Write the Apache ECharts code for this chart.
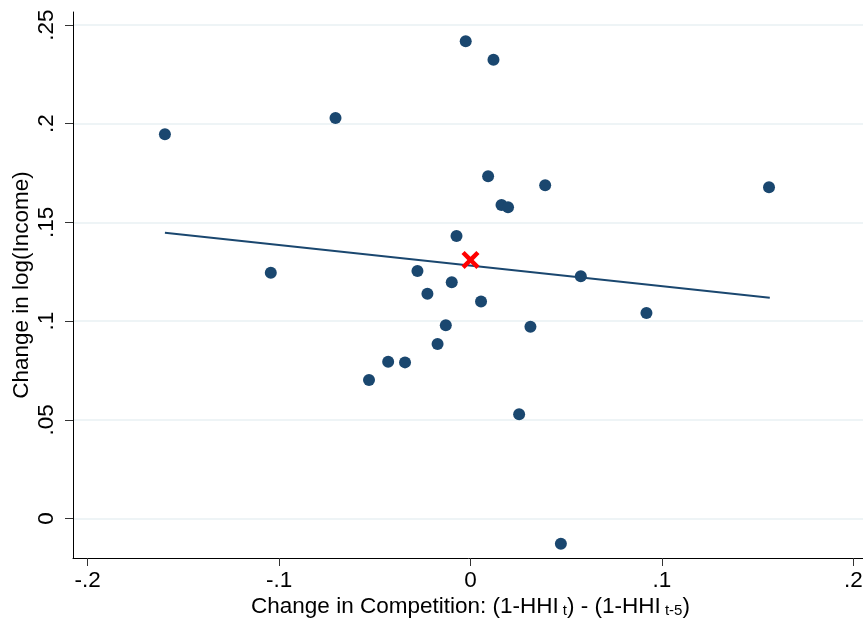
<!DOCTYPE html>
<html>
<head>
<meta charset="utf-8">
<script src="https://cdn.jsdelivr.net/npm/echarts@6/dist/echarts.min.js"></script>
<style>
  html, body { margin: 0; padding: 0; background: #ffffff; }
  #chart { width: 863px; height: 623px; }
</style>
</head>
<body>
<div id="chart"></div>
<script>
// Scatter points: change in competition (x) vs change in log(Income) (y)
const pointsX = [-0.1596, -0.0705, -0.0025, 0.0120, 0.0092, 0.0390, 0.0162, 0.0196,
                 0.1559, 0.0576, 0.0919, -0.1043, -0.0277, -0.0098, -0.0225, -0.0129,
                 -0.0172, -0.0430, -0.0342, -0.0530, 0.0055, 0.0313, -0.0073, 0.0254, 0.0472];
const pointsY = [0.1947, 0.2029, 0.2418, 0.2324, 0.1734, 0.1688, 0.1588, 0.1577,
                 0.1678, 0.1227, 0.1041, 0.1245, 0.1254, 0.1197, 0.1139, 0.0979,
                 0.0884, 0.0794, 0.0791, 0.0702, 0.1100, 0.0972, 0.1431, 0.0528, -0.0128];
// Linear fit line endpoints
const fitX = [-0.1596, 0.1563];
const fitY = [0.1448, 0.1119];
// Highlighted point (red X)
const markX = [0];
const markY = [0.131];
// Tick values
const xTicks = [-0.2, -0.1, 0, 0.1, 0.2];
const yTicks = [0, 0.05, 0.1, 0.15, 0.2, 0.25];

function stataFmt(v) {
  if (v === 0) return '0';
  let s = String(+v.toFixed(4));
  return s.replace(/^(-?)0\./, '$1.');
}

const FONT = "'Liberation Sans', Arial, Helvetica, sans-serif";
const NAVY = '#1a476f';
const FS = 22.5;
const d = 17.5;
const xPath = 'path://M0,' + d + ' L' + d + ',0 L50,' + (50 - d) + ' L' + (100 - d) + ',0 L100,' + d +
  ' L' + (50 + d) + ',50 L100,' + (100 - d) + ' L' + (100 - d) + ',100 L50,' + (50 + d) +
  ' L' + d + ',100 L0,' + (100 - d) + ' L' + (50 - d) + ',50 Z';

const chart = echarts.init(document.getElementById('chart'), null, { renderer: 'canvas' });
chart.setOption({
  animation: false,
  backgroundColor: '#ffffff',
  textStyle: { fontFamily: FONT },
  grid: { left: 73, top: 12, width: 795, height: 546, containLabel: false, outerBoundsMode: 'none' },
  xAxis: {
    type: 'value',
    min: -0.2076, max: 0.2076,
    axisLine: { show: true, onZero: false, lineStyle: { color: '#000', width: 1 } },
    axisTick: { show: true, customValues: xTicks, length: 8, lineStyle: { color: '#333', width: 1 } },
    axisLabel: { customValues: xTicks, formatter: stataFmt, fontSize: FS, color: '#000', margin: 11, fontFamily: FONT, hideOverlap: false },
    splitLine: { show: false },
    name: '{a|Change in Competition: (1-HHI}{s| t}{a|) - (1-HHI}{s| t-5}{a|)}',
    nameLocation: 'middle',
    nameGap: 34,
    nameMoveOverlap: false,
    nameTextStyle: {
      color: '#000', fontFamily: FONT,
      rich: {
        a: { fontSize: FS, color: '#000', fontFamily: FONT, verticalAlign: 'bottom', lineHeight: 26 },
        s: { fontSize: 15, color: '#000', fontFamily: FONT, verticalAlign: 'bottom', lineHeight: 21 }
      }
    }
  },
  yAxis: {
    type: 'value',
    min: -0.02, max: 0.2566,
    axisLine: { show: true, onZero: false, lineStyle: { color: '#000', width: 1 } },
    axisTick: { show: true, customValues: yTicks, length: 8, lineStyle: { color: '#333', width: 1 } },
    axisLabel: { customValues: yTicks, formatter: stataFmt, fontSize: FS, color: '#000', margin: 15, rotate: 90, fontFamily: FONT, hideOverlap: false },
    splitLine: { show: true, lineStyle: { color: '#e9f0f3', width: 1.5 } },
    name: 'Change in log(Income)',
    nameLocation: 'middle',
    nameRotate: 90,
    nameGap: 40,
    nameMoveOverlap: false,
    nameTextStyle: { fontSize: FS, color: '#000', fontFamily: FONT }
  },
  series: [
    {
      type: 'line',
      data: fitX.map((x, i) => [x, fitY[i]]),
      symbol: 'none',
      lineStyle: { color: NAVY, width: 2 },
      z: 2
    },
    {
      type: 'scatter',
      data: pointsX.map((x, i) => [x, pointsY[i]]),
      symbol: 'circle',
      symbolSize: 12,
      itemStyle: { color: NAVY, opacity: 1 },
      z: 3
    },
    {
      type: 'scatter',
      data: markX.map((x, i) => [x, markY[i]]),
      symbol: xPath,
      symbolSize: 18,
      itemStyle: { color: '#ff0000', opacity: 1 },
      z: 4
    }
  ]
});
</script>
</body>
</html>
